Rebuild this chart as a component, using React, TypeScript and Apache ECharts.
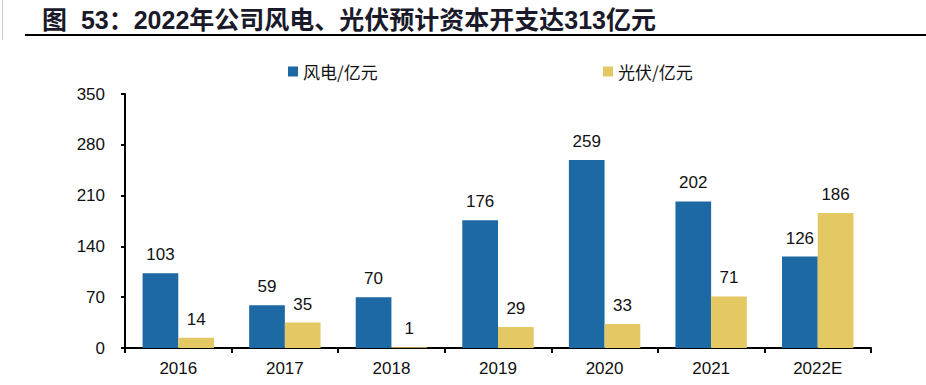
import React, { useEffect, useRef } from "react";
import * as echarts from "echarts";

const categories = ["2016", "2017", "2018", "2019", "2020", "2021", "2022E"];
const windValues = [103, 59, 70, 176, 259, 202, 126];
const solarValues = [14, 35, 1, 29, 33, 71, 186];
const yTicks = { min: 0, max: 350, interval: 70 };
const titleText = "图  53：2022年公司风电、光伏预计资本开支达313亿元";
const windName = "风电/亿元";
const solarName = "光伏/亿元";

const FONT = "'Liberation Sans', Arial, 'Noto Sans CJK SC', sans-serif";

export default function App() {
  const ref = useRef<HTMLDivElement>(null);
  useEffect(() => {
    if (!ref.current) return;
    const chart = echarts.init(ref.current, undefined, { renderer: "svg" });
    const labelStyle = {
      show: true,
      position: "top" as const,
      distance: 10,
      fontSize: 17,
      color: "#111",
      fontFamily: FONT,
    };
    const legendText = {
      fontSize: 17,
      color: "#111",
      fontFamily: "'Noto Sans CJK SC', sans-serif",
    };
    chart.setOption({
      animation: false,
      backgroundColor: "#fff",
      title: {
        text: titleText,
        left: 37,
        top: 2,
        textStyle: {
          fontSize: 25,
          fontWeight: "bold",
          color: "#1a1a2a",
          fontFamily: FONT,
        },
      },
      graphic: [
        {
          type: "line",
          shape: { x1: 25, y1: 35, x2: 926, y2: 35 },
          style: { stroke: "#000", lineWidth: 2 },
        },
        {
          type: "line",
          shape: { x1: 2.5, y1: 0, x2: 2.5, y2: 40 },
          style: { stroke: "#ccc", lineWidth: 1 },
        },
      ],
      legend: [
        {
          data: [windName],
          left: 283,
          top: 58,
          itemWidth: 10,
          itemHeight: 10,
          itemGap: 4,
          icon: "rect",
          textStyle: legendText,
        },
        {
          data: [solarName],
          left: 598,
          top: 58,
          itemWidth: 10,
          itemHeight: 10,
          itemGap: 4,
          icon: "rect",
          textStyle: legendText,
        },
      ],
      grid: { left: 125, right: 55, top: 94, bottom: 37 },
      xAxis: {
        type: "category",
        data: categories,
        axisLine: { lineStyle: { color: "#000", width: 2 } },
        axisTick: { show: true, length: 5, lineStyle: { color: "#000", width: 2 } },
        axisLabel: { fontSize: 17, color: "#111", margin: 12, fontFamily: FONT },
      },
      yAxis: {
        type: "value",
        min: yTicks.min,
        max: yTicks.max,
        interval: yTicks.interval,
        splitLine: { show: false },
        axisLine: { show: true, lineStyle: { color: "#000", width: 2 } },
        axisTick: { show: true, length: 4, lineStyle: { color: "#000", width: 2 } },
        axisLabel: { fontSize: 17, color: "#111", margin: 20, fontFamily: FONT },
      },
      series: [
        {
          name: windName,
          type: "bar",
          data: windValues,
          barGap: "0%",
          barCategoryGap: "33%",
          itemStyle: { color: "#1D69A4" },
          label: labelStyle,
        },
        {
          name: solarName,
          type: "bar",
          data: solarValues,
          barGap: "0%",
          barCategoryGap: "33%",
          itemStyle: { color: "#E4C864" },
          label: labelStyle,
        },
      ],
    });
    return () => chart.dispose();
  }, []);
  return (
    <div
      ref={ref}
      style={{ position: "fixed", left: 0, top: 0, width: 926, height: 385, background: "#fff" }}
    />
  );
}
